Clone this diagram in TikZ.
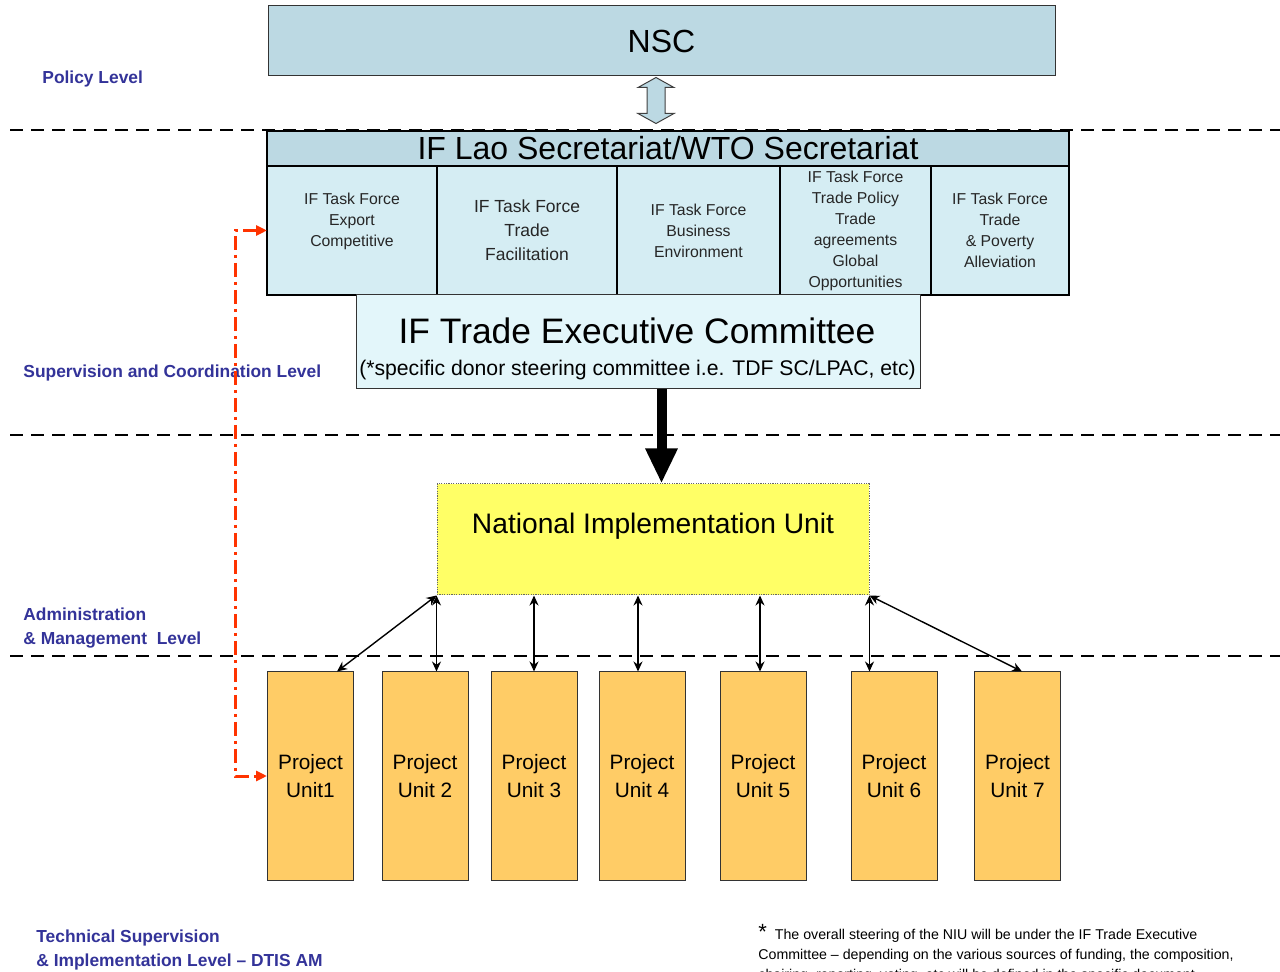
\documentclass[tikz,border=0pt]{standalone}
\usepackage{fontspec}
\setmainfont{Liberation Sans}
\usetikzlibrary{arrows.meta,positioning,calc}
\definecolor{nscblue}{HTML}{BCD9E3}
\definecolor{taskblue}{HTML}{D5EDF3}
\definecolor{execblue}{HTML}{E3F6FA}
\definecolor{niuyellow}{HTML}{FFFF66}
\definecolor{puorange}{HTML}{FFCC66}
\definecolor{levelblue}{HTML}{333399}
\definecolor{linkred}{HTML}{FF3300}
\tikzset{
  levelline/.style={black, line width=1.1pt, dash pattern=on 6.5pt off 4pt},
  levellabel/.style={anchor=west, align=left, inner sep=0pt, text=levelblue, font=\bfseries\fontsize{8.7}{12}\selectfont},
  topbox/.style={draw=black!80, line width=0.5pt, fill=nscblue, inner sep=0pt},
  taskbox/.style={draw=black, line width=0.6pt, fill=taskblue, minimum height=64.5pt, inner sep=0pt, outer sep=0pt},
  tasktext/.style={align=center, inner sep=0pt, text=black!85, font=\fontsize{7.9}{10.5}\selectfont},
  puunit/.style={draw=black!80, line width=0.5pt, fill=puorange, minimum width=43pt, minimum height=104pt, align=center, inner sep=0pt, font=\fontsize{10.4}{14}\selectfont},
  linkarrow/.style={{Stealth[length=5pt,width=4.5pt]}-{Stealth[length=5pt,width=4.5pt]}, line width=0.7pt},
  bigarrow/.style={-{Triangle[length=17.5pt,width=15pt]}, line width=5pt},
  dblarrow/.style={draw=black!75, line width=0.5pt, fill=nscblue},
  redlink/.style={{Triangle[length=5.5pt,width=5pt]}-{Triangle[length=5.5pt,width=5pt]}, draw=linkred, line width=1.5pt, dash pattern=on 7pt off 2.5pt on 1.5pt off 2.5pt}
}
\begin{document}
\begin{tikzpicture}[x=0.5pt, y=-0.5pt]
  \useasboundingbox[fill=white] (0,0) rectangle (1280,972);

  \draw[levelline] (10,130) -- (1280,130);
  \draw[levelline] (10,435) -- (1280,435);
  \draw[levelline] (10,656) -- (1280,656);

  \node[levellabel] (policy) at (42,79) {Policy Level};
  \node[levellabel] (superv) at (23,373) {Supervision and Coordination Level};
  \node[levellabel] (admin) at (23,628.5) {Administration\\\& Management\ \ Level};
  \node[levellabel] (techn) at (36,949.5) {Technical Supervision\\\& Implementation Level – DTIS AM};

  \node[topbox, minimum width=393.5pt, minimum height=35pt, font=\fontsize{16}{18}\selectfont] (nsc) at (661.5,41) {NSC};
  \node[topbox, draw=black, line width=0.6pt, minimum width=401pt, minimum height=17.5pt, outer sep=0pt, font=\fontsize{16}{18}\selectfont] (secr) at (668,148.5) {IF Lao Secretariat/WTO Secretariat};

  \node[taskbox, minimum width=85pt, anchor=north west] (tf1) at (secr.south west) {};
  \node[taskbox, minimum width=90pt, right=0pt of tf1] (tf2) {};
  \node[taskbox, minimum width=81.5pt, right=0pt of tf2] (tf3) {};
  \node[taskbox, minimum width=75.5pt, right=0pt of tf3] (tf4) {};
  \node[taskbox, minimum width=69pt, right=0pt of tf4] (tf5) {};
  \node[tasktext] (tf1txt) at ([yshift=4.75pt]tf1.center) {IF Task Force\\Export\\Competitive};
  \node[tasktext, font=\fontsize{8.75}{12}\selectfont] (tf2txt) at (tf2.center) {IF Task Force\\Trade\\Facilitation};
  \node[tasktext] (tf3txt) at (tf3.center) {IF Task Force\\Business\\Environment};
  \node[tasktext] (tf4txt) at (tf4.center) {IF Task Force\\Trade Policy\\Trade\\agreements\\Global\\Opportunities};
  \node[tasktext] (tf5txt) at (tf5.center) {IF Task Force\\Trade\\\& Poverty\\Alleviation};

  \node[draw=black!80, line width=0.5pt, fill=execblue, minimum width=282pt, minimum height=47pt, inner sep=0pt] (exec) at (638,342) {};
  \node[font=\fontsize{17.7}{20}\selectfont] (exectitle) at (637,331) {IF Trade Executive Committee};
  \node[font=\fontsize{10.6}{12}\selectfont] (execnote) at (637.5,370) {(*specific donor steering committee i.e. TDF SC/LPAC, etc)};

  \node[draw=black!60, line width=0.5pt, dash pattern=on 0.6pt off 0.6pt, fill=niuyellow, minimum width=216pt, minimum height=55.5pt, inner sep=0pt] (niu) at (653,539.5) {};
  \node[font=\fontsize{14.1}{16}\selectfont] (niutxt) at (653,526) {National Implementation Unit};

  \node[puunit] (pu1) at (310.5,776) {Project\\Unit1};
  \node[puunit] (pu2) at (425,776) {Project\\Unit 2};
  \node[puunit] (pu3) at (534,776) {Project\\Unit 3};
  \node[puunit] (pu4) at (642,776) {Project\\Unit 4};
  \node[puunit] (pu5) at (763,776) {Project\\Unit 5};
  \node[puunit] (pu6) at (894,776) {Project\\Unit 6};
  \node[puunit] (pu7) at (1017.5,776) {Project\\Unit 7};

  \draw[dblarrow] ([xshift=-2.75pt]nsc.south) ++(0,1) -- ++(18,10) -- ++(-9,0) -- ++(0,26) -- ++(9,0) -- ++(-18,10) -- ++(-18,-10) -- ++(9,0) -- ++(0,-26) -- ++(-9,0) -- cycle;
  \draw[bigarrow] (exec.south -| nsc) -- (niu.north -| nsc);

  \draw[linkarrow] (niu.south west) -- ([xshift=13.25pt]pu1.north);
  \draw[linkarrow] (niu.south west) -- (niu.south west |- pu2.north);
  \draw[linkarrow] (niu.south -| pu3) -- (pu3.north);
  \draw[linkarrow] ([xshift=-2pt]pu4.north |- niu.south) -- ([xshift=-2pt]pu4.north);
  \draw[linkarrow] ([xshift=-1.5pt]pu5.north |- niu.south) -- ([xshift=-1.5pt]pu5.north);
  \draw[linkarrow] (niu.south east) -- (niu.south east |- pu6.north);
  \draw[linkarrow] (niu.south east) -- ([xshift=2.25pt]pu7.north);

  \draw[redlink] (tf1.west) -- ++(-32,0) |- (pu1.west);

  \node[anchor=north west, align=left, inner sep=0pt, font=\fontsize{7.1}{10}\selectfont] (footnote) at (758,924) {{\fontsize{11}{10}\selectfont *}\ \ The overall steering of the NIU will be under the IF Trade Executive\\Committee – depending on the various sources of funding, the composition,\\chairing, reporting, voting, etc will be defined in the specific document.};
\end{tikzpicture}
\end{document}
